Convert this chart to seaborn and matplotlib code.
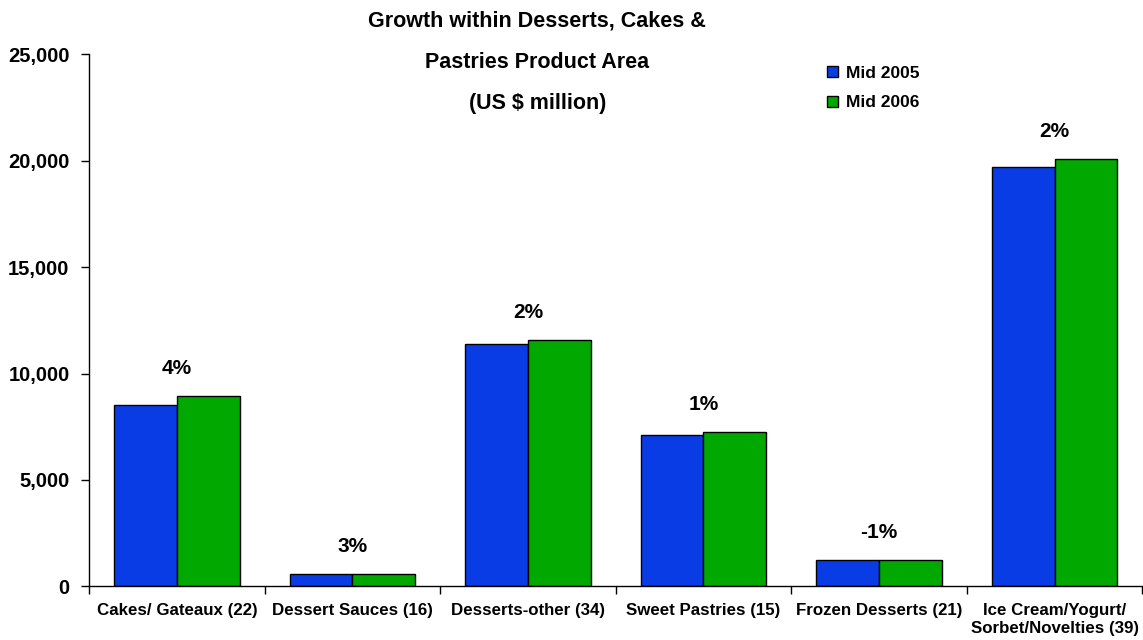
import matplotlib
matplotlib.use("Agg")
import matplotlib.pyplot as plt
import seaborn as sns
import pandas as pd
from matplotlib.ticker import FuncFormatter, FixedLocator

categories = ["Cakes/ Gateaux (22)", "Dessert Sauces (16)", "Desserts-other (34)",
              "Sweet Pastries (15)", "Frozen Desserts (21)",
              "Ice Cream/Yogurt/\nSorbet/Novelties (39)"]
mid_2005 = [8520, 590, 11380, 7110, 1255, 19710]
mid_2006 = [8940, 600, 11570, 7250, 1245, 20080]
growth_labels = ["4%", "3%", "2%", "1%", "-1%", "2%"]
series_names = ["Mid 2005", "Mid 2006"]
y_ticks = [0, 5000, 10000, 15000, 20000, 25000]

df = pd.DataFrame({
    "category": categories * 2,
    "value": mid_2005 + mid_2006,
    "period": [series_names[0]] * len(categories) + [series_names[1]] * len(categories),
})

sns.set_theme(style="white")
plt.rcParams["font.family"] = ["Liberation Sans", "DejaVu Sans"]
plt.rcParams["font.weight"] = "bold"
plt.rcParams["text.color"] = "black"
plt.rcParams["xtick.color"] = "black"
plt.rcParams["ytick.color"] = "black"
plt.rcParams["xtick.labelcolor"] = "black"
plt.rcParams["ytick.labelcolor"] = "black"

fig = plt.figure(figsize=(11.43, 6.40), dpi=100)
ax = fig.add_axes([0.0779, 0.0836, 0.9215, 0.832])

palette = {"Mid 2005": "#0A3CE6", "Mid 2006": "#00A800"}
sns.barplot(data=df, x="category", y="value", hue="period", palette=palette,
            width=0.716, edgecolor="black", linewidth=1.0, saturation=1,
            ax=ax, errorbar=None)

ax.set_xlim(-0.5, len(categories) - 0.5)
ax.set_ylim(0, 25000)
ax.set_xlabel("")
ax.set_ylabel("")

# y axis: comma-formatted bold ticks
ax.yaxis.set_major_locator(FixedLocator(y_ticks))
ax.yaxis.set_major_formatter(FuncFormatter(lambda v, _: f"{int(v):,}"))
ax.tick_params(axis="y", which="major", direction="out", length=6, width=1,
               color="black", labelsize=14.5, pad=8, left=True, labelcolor="black")

# x axis: category labels centred, tick marks at group boundaries
ax.set_xticks(range(len(categories)))
ax.set_xticklabels(categories, fontsize=12.2, fontweight="bold", color="black")
ax.tick_params(axis="x", which="major", length=0, pad=12)
ax.set_xticks([i - 0.5 for i in range(len(categories) + 1)], minor=True)
ax.tick_params(axis="x", which="minor", direction="out", length=6, width=1,
               color="black", bottom=True)
for lbl in ax.get_yticklabels():
    lbl.set_fontweight("bold")

for side in ["top", "right"]:
    ax.spines[side].set_visible(False)
for side in ["left", "bottom"]:
    ax.spines[side].set_color("black")
    ax.spines[side].set_linewidth(1.0)

# growth labels above each group
for i, lab in enumerate(growth_labels):
    top = max(mid_2005[i], mid_2006[i])
    ax.annotate(lab, xy=(i, top), xytext=(0, 13), textcoords="offset points",
                ha="center", va="bottom", fontsize=15, fontweight="bold",
                color="black")

# legend
handles, labels = ax.get_legend_handles_labels()
leg = ax.legend(handles, labels, loc="upper left", bbox_to_anchor=(0.71, 0.922),
                bbox_transform=fig.transFigure, frameon=False,
                handlelength=0.6, handleheight=0.6, handletextpad=0.5,
                labelspacing=0.85, prop={"weight": "bold", "size": 12.5})
for t in leg.get_texts():
    t.set_color("black")

fig.text(0.47, 0.983, "Growth within Desserts, Cakes &\nPastries Product Area\n(US $ million)",
         ha="center", va="top", fontsize=15.5, fontweight="bold", linespacing=2.25,
         color="black")

fig.savefig("out.png", dpi=100)
